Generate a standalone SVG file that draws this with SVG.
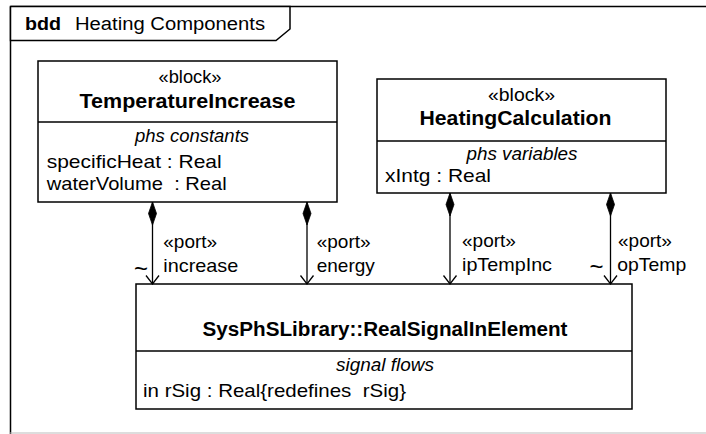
<svg xmlns="http://www.w3.org/2000/svg" width="706" height="434" viewBox="0 0 706 434">
<style>
  text { font-family: "Liberation Sans", Arial, sans-serif; fill: #000; }
  .reg { font-size: 19px; }
  .bold { font-size: 19.5px; font-weight: bold; }
  .ital { font-size: 18.5px; font-style: italic; }
  .lbl { font-size: 19px; }
  .tilde { font-size: 24px; }
  .box { fill: #fff; stroke: #000; stroke-width: 1.5; }
  .div { stroke: #000; stroke-width: 1.5; }
  .conn { stroke: #000; stroke-width: 1.3; fill: none; marker-start: url(#diamond); marker-end: url(#open); }
</style>
<defs>
  <marker id="diamond" markerUnits="userSpaceOnUse" orient="auto" refX="0" refY="0" markerWidth="30" markerHeight="30" overflow="visible">
    <path d="M0,0 L11.5,-4 L23,0 L11.5,4 Z" fill="#000" stroke="#000" stroke-width="0.8"/>
  </marker>
  <marker id="open" markerUnits="userSpaceOnUse" orient="auto" refX="0" refY="0" markerWidth="20" markerHeight="20" overflow="visible">
    <path d="M-8.5,-6.5 L0,0 L-8.5,6.5" fill="none" stroke="#000" stroke-width="1.3"/>
  </marker>
</defs>

<g id="frame">
  <line x1="10.5" y1="6.5" x2="706" y2="6.5" stroke="#000" stroke-width="1.5"/>
  <line x1="10.5" y1="6.5" x2="10.5" y2="434" stroke="#000" stroke-width="1.5"/>
  <line x1="10" y1="433" x2="706" y2="433" stroke="#bbb" stroke-width="1"/>
  <polygon points="10.5,6.5 290,6.5 290,29 276,40.5 10.5,40.5" fill="#fff" stroke="#000" stroke-width="1.5"/>
  <text x="25" y="30" font-size="18" font-weight="bold" textLength="36" lengthAdjust="spacingAndGlyphs">bdd</text>
  <text x="75" y="30" font-size="18" textLength="190" lengthAdjust="spacingAndGlyphs">Heating Components</text>
</g>

<g id="TemperatureIncrease">
  <rect class="box" x="38" y="61" width="299" height="141"/>
  <line class="div" x1="38" y1="122" x2="337" y2="122"/>
  <text class="reg" x="190" y="83" text-anchor="middle" textLength="63" lengthAdjust="spacingAndGlyphs">«block»</text>
  <text class="bold" x="187.5" y="108" text-anchor="middle" textLength="216" lengthAdjust="spacingAndGlyphs">TemperatureIncrease</text>
  <text class="ital" x="192" y="142" text-anchor="middle" textLength="114" lengthAdjust="spacingAndGlyphs">phs constants</text>
  <text class="reg" x="46.7" y="168" textLength="175" lengthAdjust="spacingAndGlyphs">specificHeat : Real</text>
  <text class="reg" x="46.7" y="190" textLength="180" lengthAdjust="spacingAndGlyphs" xml:space="preserve">waterVolume  : Real</text>
</g>

<g id="HeatingCalculation">
  <rect class="box" x="377" y="79" width="289" height="114"/>
  <line class="div" x1="377" y1="141" x2="666" y2="141"/>
  <text class="reg" x="521.5" y="101" text-anchor="middle" textLength="67" lengthAdjust="spacingAndGlyphs">«block»</text>
  <text class="bold" x="515.5" y="125" text-anchor="middle" textLength="192" lengthAdjust="spacingAndGlyphs">HeatingCalculation</text>
  <text class="ital" x="522" y="160" text-anchor="middle" textLength="111" lengthAdjust="spacingAndGlyphs">phs variables</text>
  <text class="reg" x="385" y="182" textLength="106" lengthAdjust="spacingAndGlyphs">xIntg : Real</text>
</g>

<g id="RealSignalInElement">
  <rect class="box" x="136" y="284" width="496" height="125"/>
  <line class="div" x1="136" y1="351" x2="632" y2="351"/>
  <text class="bold" x="385" y="336" text-anchor="middle" textLength="365" lengthAdjust="spacingAndGlyphs">SysPhSLibrary::RealSignalInElement</text>
  <text class="ital" x="385" y="371" text-anchor="middle" textLength="98" lengthAdjust="spacingAndGlyphs">signal flows</text>
  <text class="reg" x="143" y="397" textLength="263" lengthAdjust="spacingAndGlyphs" xml:space="preserve">in rSig : Real{redefines  rSig}</text>
</g>

<g id="connectors">
  <line class="conn" x1="152.5" y1="202" x2="152.5" y2="284"/>
  <line class="conn" x1="307" y1="202" x2="307" y2="284"/>
  <line class="conn" x1="450" y1="193" x2="450" y2="284"/>
  <line class="conn" x1="610.5" y1="193" x2="610.5" y2="284"/>
  <text class="lbl" x="163.3" y="248">«port»</text>
  <text class="lbl" x="163.3" y="272" textLength="75" lengthAdjust="spacingAndGlyphs">increase</text>
  <text class="tilde" x="134" y="277">~</text>
  <text class="lbl" x="316.7" y="248">«port»</text>
  <text class="lbl" x="316.7" y="272">energy</text>
  <text class="lbl" x="462" y="247">«port»</text>
  <text class="lbl" x="462" y="271" textLength="90" lengthAdjust="spacingAndGlyphs">ipTempInc</text>
  <text class="lbl" x="618" y="247">«port»</text>
  <text class="lbl" x="617.3" y="271" textLength="69" lengthAdjust="spacingAndGlyphs">opTemp</text>
  <text class="tilde" x="589.5" y="275">~</text>
</g>
</svg>
